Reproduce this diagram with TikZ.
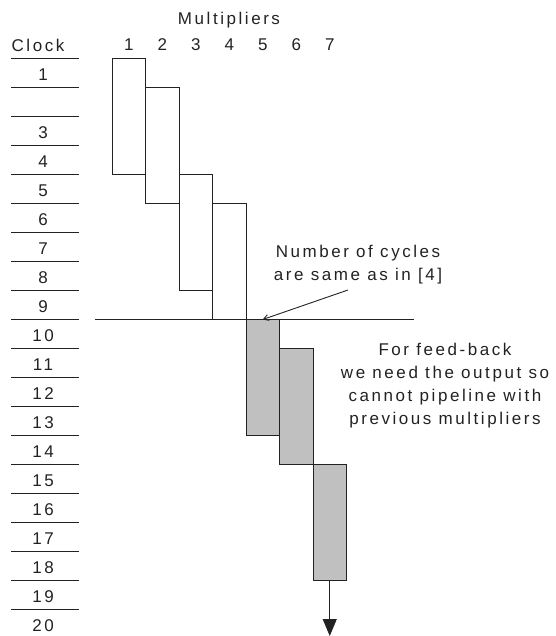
\documentclass[tikz,border=0pt]{standalone}
\usepackage{fontspec}
\setmainfont{Liberation Sans}[LetterSpace=15]
\usetikzlibrary{arrows.meta}
\definecolor{boxgray}{HTML}{C0C0C0}
\definecolor{ink}{HTML}{222222}
\begin{document}
\begin{tikzpicture}[x=1pt,y=-1pt,
  lbl/.style={font=\fontsize{17}{22}\selectfont, inner sep=0pt, anchor=base, text=ink},
  note/.style={font=\fontsize{17}{22.5}\selectfont, inner sep=0pt, align=center, anchor=north, text=ink},
  mbox/.style={draw=ink, line width=0.9pt, minimum width=33.5pt, inner sep=0pt, outer sep=0pt},
  tick/.style={draw=ink, line width=0.9pt},
  ]
\useasboundingbox (0,0) rectangle (555,636);
% clock grid
\foreach \k in {0,...,19}
  \draw[tick] (11,{58.3+29.02*\k}) -- (79,{58.3+29.02*\k});
\foreach \k in {1,3,4,5,6,7,8,9,10,11,12,13,14,15,16,17,18,19,20}
  \node[lbl] (r\k) at (43,{58.3+29.02*(\k-0.5)+7.4}) {\k};
% headers
\node[lbl] (clk) at (38,51.7) {Clock};
\node[lbl] (mult) at (229,25) {Multipliers};
\foreach \i in {1,...,7}
  \node[lbl] (n\i) at ({128.75+33.5*(\i-1)},50.7) {\i};
% separator
\coordinate (sepL) at (95,319.3);
\coordinate (sepR) at (414,319.3);
\draw[tick] (sepL) -- (sepR);
% multiplier boxes
\foreach \i/\a/\b/\f in {1/0/4/white,2/1/5/white,3/4/8/white,4/5/9/white,5/9/13/boxgray,6/10/14/boxgray,7/14/18/boxgray}
  \node[mbox, fill=\f, minimum height={29.02pt*(\b-\a)}] (m\i)
    at ({128.75+33.5*(\i-1)},{58.3+29.02*(\a+\b)/2}) {};
% notes
\node[note] (note1) at (358,245) {Number of cycles\\are same as in [4]};
\coordinate (a1) at (348,290);
\draw[tick, -{Straight Barb[length=5pt,width=6pt]}] (a1) -- (m5.north);
\node[note, font=\fontsize{17}{23.1}\selectfont] (note2) at (445,342.5)
  {For feed-back\\we need the output so\\cannot pipeline with\\previous multipliers};
% output arrow
\coordinate (outend) at (329.75,636);
\draw[tick, -{Triangle[length=17pt,width=14pt]}] (m7.south) -- (outend);
\end{tikzpicture}
\end{document}
